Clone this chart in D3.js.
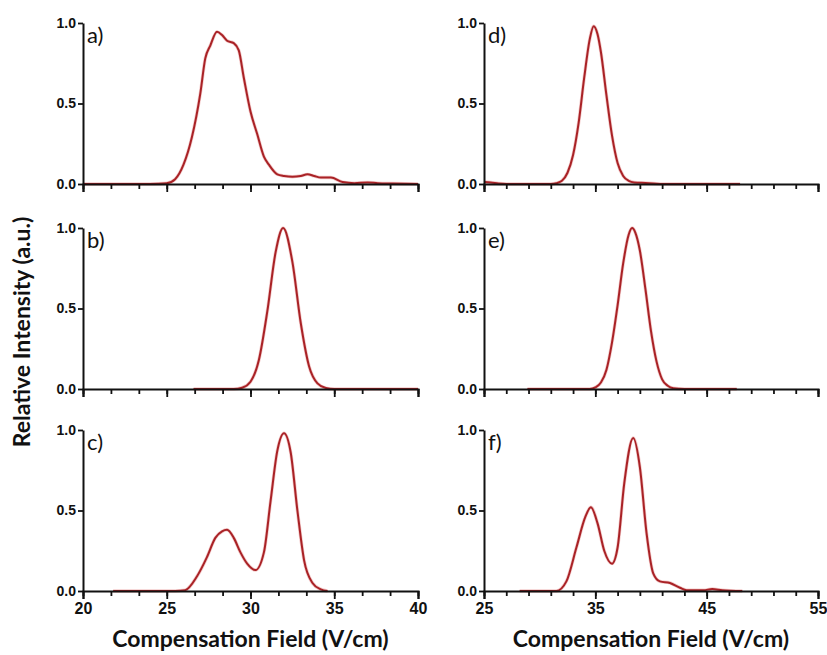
<!DOCTYPE html>
<html>
<head>
<meta charset="utf-8">
<script src="https://cdn.jsdelivr.net/npm/d3@7"></script>
<style>
  body { margin: 0; background: #fff; }
  svg { font-family: Lato, "Open Sans", sans-serif; }
</style>
</head>
<body>
<script>
// spectra: [field V/cm, relative intensity]
var seriesA = [[20,0],[24,0],[25,0.005],[25.5,0.03],[26,0.12],[26.5,0.29],[27,0.56],[27.3,0.78],[27.6,0.86],[28,0.945],[28.3,0.925],[28.6,0.89],[29,0.875],[29.3,0.83],[29.6,0.66],[30,0.45],[30.4,0.31],[30.8,0.17],[31.1,0.12],[31.6,0.06],[32,0.05],[32.5,0.045],[33,0.05],[33.4,0.06],[33.8,0.05],[34.2,0.04],[34.8,0.04],[35.5,0.012],[36.2,0.005],[37,0.01],[37.6,0.005],[38.5,0.003],[40,0]];
var seriesB = [[26.6,0],[29,0],[29.5,0.008],[30,0.045],[30.5,0.18],[31,0.48],[31.5,0.85],[31.95,1.0],[32.5,0.79],[33,0.41],[33.5,0.14],[34,0.035],[34.5,0.006],[35,0],[40,0]];
var seriesC = [[21.8,0],[25.5,0],[26.1,0.005],[26.8,0.09],[27.4,0.21],[27.9,0.33],[28.3,0.37],[28.6,0.38],[29.0,0.33],[29.4,0.24],[29.8,0.17],[30.3,0.13],[30.8,0.24],[31.2,0.56],[31.6,0.87],[32.0,0.98],[32.4,0.86],[32.8,0.5],[33.2,0.19],[33.7,0.05],[34.2,0.01],[34.6,0]];
var seriesD = [[25,0.012],[25.6,0.01],[26.3,0.003],[27,0],[31,0],[31.5,0.005],[32,0.02],[32.5,0.07],[33,0.18],[33.5,0.38],[34,0.66],[34.5,0.9],[34.85,0.98],[35.2,0.93],[35.5,0.82],[36,0.55],[36.5,0.3],[37,0.13],[37.5,0.05],[38,0.02],[38.5,0.01],[39.5,0.006],[40.5,0.002],[41.5,0],[48,0]];
var seriesE = [[28.9,0],[34.5,0],[35,0.01],[35.5,0.04],[36,0.12],[36.5,0.29],[37,0.52],[37.5,0.78],[38,0.96],[38.3,1.0],[38.6,0.97],[39,0.86],[39.5,0.62],[40,0.36],[40.5,0.17],[41,0.06],[41.5,0.02],[42,0.005],[43,0],[47.7,0]];
var seriesF = [[28.2,0],[31.5,0],[32.4,0.06],[33.3,0.27],[34.1,0.46],[34.6,0.52],[35.2,0.42],[35.8,0.25],[36.5,0.17],[37,0.27],[37.6,0.67],[38.4,0.95],[39,0.77],[39.6,0.36],[40.2,0.11],[40.8,0.06],[41.7,0.05],[42.6,0.02],[43.2,0.005],[44.7,0.005],[45.5,0.012],[46.4,0.005],[48.2,0]];

var panelLabels = ["a)", "b)", "c)", "d)", "e)", "f)"];
var leftDomain = [20, 40], rightDomain = [25, 55];
var leftMajor = [20, 25, 30, 35, 40];
var rightMajor = [25, 35, 45, 55];
var yTicks = [0, 0.5, 1.0];
var xTitle = "Compensation Field (V/cm)";
var yTitle = "Relative Intensity (a.u.)";

var W = 827, H = 655;
var svg = d3.select("body").append("svg").attr("width", W).attr("height", H);

var colLeft = [83, 484], colRight = [418, 818];
var rowTop = [23, 228, 430], plotH = 161;

var panels = [
  {data: seriesA, col: 0, row: 0},
  {data: seriesB, col: 0, row: 1},
  {data: seriesC, col: 0, row: 2},
  {data: seriesD, col: 1, row: 0},
  {data: seriesE, col: 1, row: 1},
  {data: seriesF, col: 1, row: 2}
];

panels.forEach(function(p, i) {
  var dom = p.col == 0 ? leftDomain : rightDomain;
  var major = p.col == 0 ? leftMajor : rightMajor;
  var minorStep = p.col == 0 ? 5 / 3 : 2;
  var minor = d3.range(0, Math.round((dom[1] - dom[0]) / minorStep) + 1).map(function(k) { return dom[0] + k * minorStep; });

  var x = d3.scaleLinear().domain(dom).range([0, colRight[p.col] - colLeft[p.col]]);
  var y = d3.scaleLinear().domain([0, 1]).range([plotH, 0]);

  var g = svg.append("g").attr("transform", "translate(" + colLeft[p.col] + "," + rowTop[p.row] + ")");

  // curve first so the axis sits on top like in the original
  var line = d3.line()
    .x(function(d) { return x(d[0]); })
    .y(function(d) { return y(d[1]); })
    .curve(d3.curveMonotoneX);

  g.append("path")
    .datum(p.data)
    .attr("fill", "none")
    .attr("stroke", "#f3cccc")
    .attr("stroke-width", 3.4)
    .attr("d", line);
  g.append("path")
    .datum(p.data)
    .attr("fill", "none")
    .attr("stroke", "#a92226")
    .attr("stroke-width", 2)
    .attr("d", line);

  // minor x ticks
  g.append("g")
    .attr("transform", "translate(0," + plotH + ")")
    .call(d3.axisBottom(x).tickValues(minor).tickSize(5).tickFormat(""))
    .call(function(a) { a.select(".domain").remove(); })
    .selectAll("line").attr("stroke", "#111").attr("stroke-width", 1.8);

  // major x ticks + axis line
  var xa = g.append("g")
    .attr("transform", "translate(0," + plotH + ")")
    .call(d3.axisBottom(x).tickValues(major).tickSizeOuter(0).tickSize(8)
      .tickFormat(p.row == 2 ? d3.format("d") : ""));
  xa.select(".domain").attr("stroke", "#111").attr("stroke-width", 2);
  xa.selectAll("line").attr("stroke", "#111").attr("stroke-width", 1.8);
  xa.selectAll("text")
    .attr("y", 12)
    .style("font-size", "16px")
    .style("font-weight", "bold")
    .attr("fill", "#111");

  // y axis
  var ya = g.append("g")
    .call(d3.axisLeft(y).tickValues(yTicks).tickSize(5).tickSizeOuter(0).tickPadding(2).tickFormat(d3.format(".1f")));
  ya.select(".domain").attr("stroke", "#111").attr("stroke-width", 2);
  ya.selectAll("line").attr("stroke", "#111").attr("stroke-width", 1.8);
  ya.selectAll("text")
    .style("font-size", "14px")
    .style("font-weight", "bold")
    .attr("fill", "#111");

  // panel letter
  g.append("text")
    .attr("x", 4)
    .attr("y", 20)
    .style("font-size", "22px")
    .attr("fill", "#111")
    .text(panelLabels[i]);
});

// axis titles
[0, 1].forEach(function(c) {
  svg.append("text")
    .attr("x", (colLeft[c] + colRight[c]) / 2)
    .attr("y", 647)
    .attr("text-anchor", "middle")
    .style("font-size", "23px")
    .style("font-weight", "bold")
    .attr("fill", "#111")
    .text(xTitle);
});

svg.append("text")
  .attr("transform", "translate(30,332) rotate(-90)")
  .attr("text-anchor", "middle")
  .style("font-size", "23px")
  .style("font-weight", "bold")
  .attr("fill", "#111")
  .text(yTitle);
</script>
</body>
</html>
